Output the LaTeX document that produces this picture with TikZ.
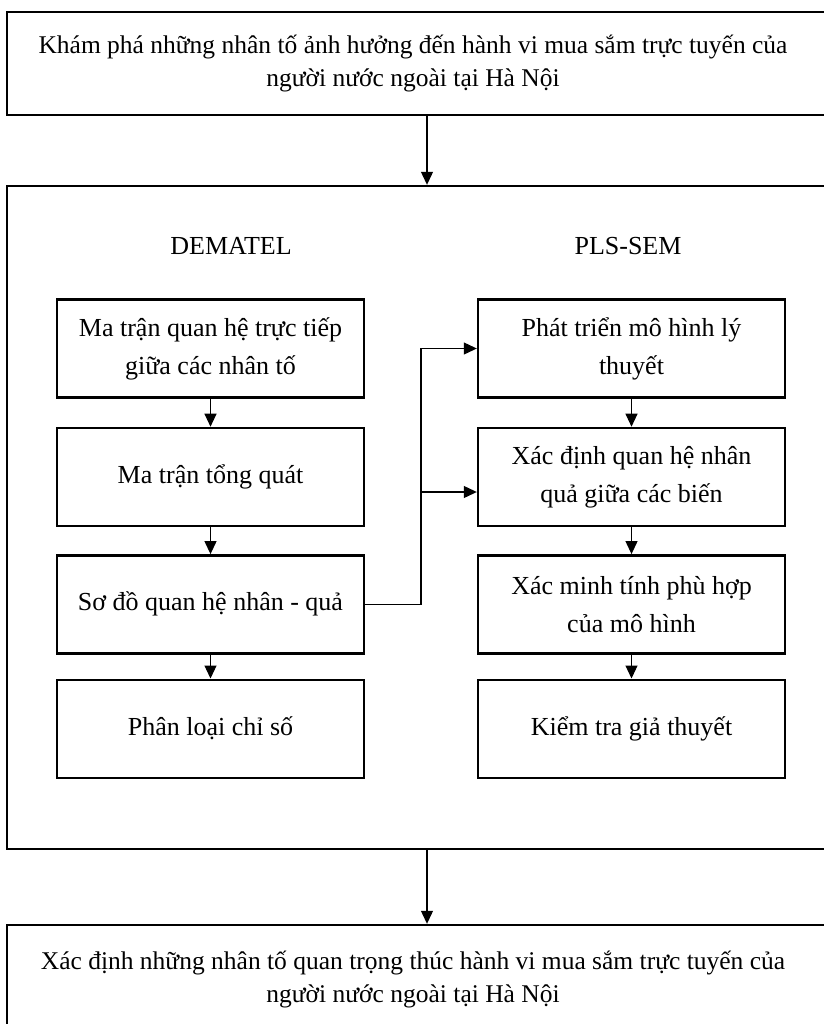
\documentclass[tikz,border=0pt]{standalone}
\usepackage{fontspec}
\setmainfont{Liberation Serif}
\usetikzlibrary{arrows.meta,positioning}
\tikzset{
  khung/.style={draw, line width=2.4pt, minimum width=840pt, inner sep=0pt},
  hop/.style={draw, line width=2.4pt, minimum width=307pt, minimum height=98pt,
    inner sep=0pt, align=center, font=\fontsize{26}{38}\selectfont},
  chu/.style={align=center, font=\fontsize{25.5}{33}\selectfont},
  tieude/.style={font=\fontsize{26}{38}\selectfont},
  muiten/.style={-{Triangle[length=13pt,width=12pt]}, line width=1.1pt},
}

\begin{document}
\begin{tikzpicture}[x=1pt,y=-1pt]
  \useasboundingbox (0,0) rectangle (823,1024);
  % khung ngoai
  \node[khung, minimum height=103pt] (dau) at (427,63.5) {};
  \node[chu] (dauchu) at (413,63.5) {Khám phá những nhân tố ảnh hưởng đến hành vi mua sắm trực tuyến của\\người nước ngoài tại Hà Nội};
  \node[khung, minimum height=663pt] (giua) at (427,517.5) {};
  \node[khung, minimum height=120pt] (cuoi) at (427,985) {};
  \node[chu] (cuoichu) at (413,980) {Xác định những nhân tố quan trọng thúc hành vi mua sắm trực tuyến của\\người nước ngoài tại Hà Nội};
  \draw[muiten] (dau) -- (giua);
  \draw[muiten] (giua) -- (cuoi);

  \node[tieude] (dematel) at (231,246) {DEMATEL};
  \node[tieude] (plssem) at (628,246) {PLS-SEM};

  % cot trai
  \node[hop] (a1) at (210.5,348.5) {Ma trận quan hệ trực tiếp\\giữa các nhân tố};
  \node[hop, below=28pt of a1] (a2) {Ma trận tổng quát};
  \node[hop, below=27pt of a2] (a3) {Sơ đồ quan hệ nhân - quả};
  \node[hop, below=24pt of a3] (a4) {Phân loại chỉ số};
  % cot phai
  \node[hop] (b1) at (631.5,348.5) {Phát triển mô hình lý\\thuyết};
  \node[hop, below=28pt of b1] (b2) {Xác định quan hệ nhân\\quả giữa các biến};
  \node[hop, below=27pt of b2] (b3) {Xác minh tính phù hợp\\của mô hình};
  \node[hop, below=24pt of b3] (b4) {Kiểm tra giả thuyết};

  \foreach \u/\v in {a1/a2,a2/a3,a3/a4,b1/b2,b2/b3,b3/b4}
    \draw[muiten] (\u) -- (\v);

  \coordinate (re) at (421,492);
  \draw[muiten] (a3.east) -- (a3.east -| re) |- (b1.west);
  \draw[muiten] (re) -- (re -| b2.west);
\end{tikzpicture}
\end{document}
